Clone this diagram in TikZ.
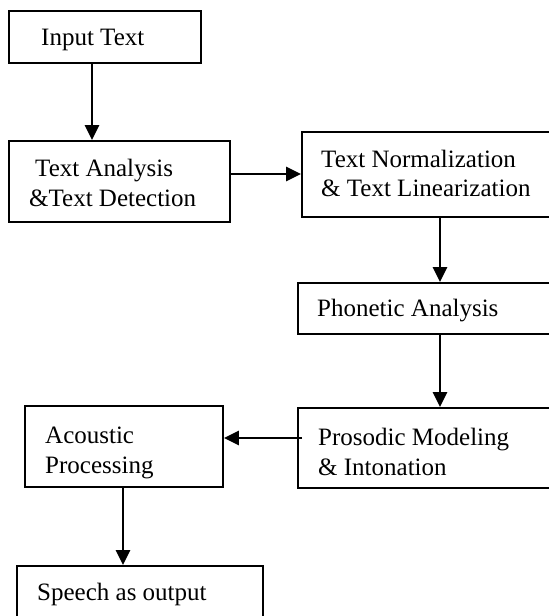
\documentclass[tikz,border=0pt]{standalone}
\usepackage{fontspec}
\setmainfont{Liberation Serif}
\usetikzlibrary{arrows.meta}
\begin{document}
\begin{tikzpicture}[x=1pt,y=-1pt,
  box/.style={draw=black,line width=1.8pt,rectangle,inner sep=0pt},
  lbl/.style={anchor=base west,inner sep=0pt,font=\fontsize{25}{30}\selectfont},
  arr/.style={draw=black,line width=2.4pt,-{Triangle[width=14pt,length=15pt]}}]
\useasboundingbox (0,0) rectangle (549,616);
\clip (0,0) rectangle (549,616);
% boxes
\node[box,minimum width=192pt,minimum height=52pt] (B1) at (105,37) {};
\node[box,minimum width=221pt,minimum height=81pt] (B2) at (119.5,181.5) {};
\node[box,minimum width=258pt,minimum height=85pt] (B3) at (431,174.5) {};
\node[box,minimum width=262pt,minimum height=51pt] (B4) at (429,308.5) {};
\node[box,minimum width=262pt,minimum height=80pt] (B5) at (429,448) {};
\node[box,minimum width=198pt,minimum height=81pt] (B6) at (124,446.5) {};
\node[box,minimum width=246pt,minimum height=74pt] (B7) at (140,603) {};
% texts
\node[lbl] (t1) at (41,45) {Input Text};
\node[lbl] (t2a) at (35,176) {Text Analysis};
\node[lbl] (t2b) at (29,206) {\&Text Detection};
\node[lbl] (t3a) at (321,167) {Text Normalization};
\node[lbl] (t3b) at (321,196) {\& Text Linearization};
\node[lbl] (t4) at (317,316) {Phonetic Analysis};
\node[lbl] (t5a) at (318,445) {Prosodic Modeling};
\node[lbl] (t5b) at (318,475) {\& Intonation};
\node[lbl] (t6a) at (45,443) {Acoustic};
\node[lbl] (t6b) at (45,473) {Processing};
\node[lbl] (t7) at (37,600) {Speech as output};
% connectors
\draw[arr] ([xshift=-13pt]B1.south) -- ([xshift=-13pt]B1.south |- B2.north);
\draw[arr] ([yshift=7.5pt]B2.east) -- ([yshift=7.5pt]B2.east -| B3.west);
\draw[arr] ([xshift=9pt]B3.south) -- ([xshift=9pt]B3.south |- B4.north);
\draw[arr] ([xshift=11pt]B4.south) -- ([xshift=11pt]B4.south |- B5.north);
\draw[arr] ([shift={(5pt,10pt)}]B5.west) -- ([yshift=10pt]B5.west -| B6.east);
\draw[arr] ([xshift=-1pt]B6.south) -- ([xshift=-1pt]B6.south |- B7.north);
\end{tikzpicture}
\end{document}
